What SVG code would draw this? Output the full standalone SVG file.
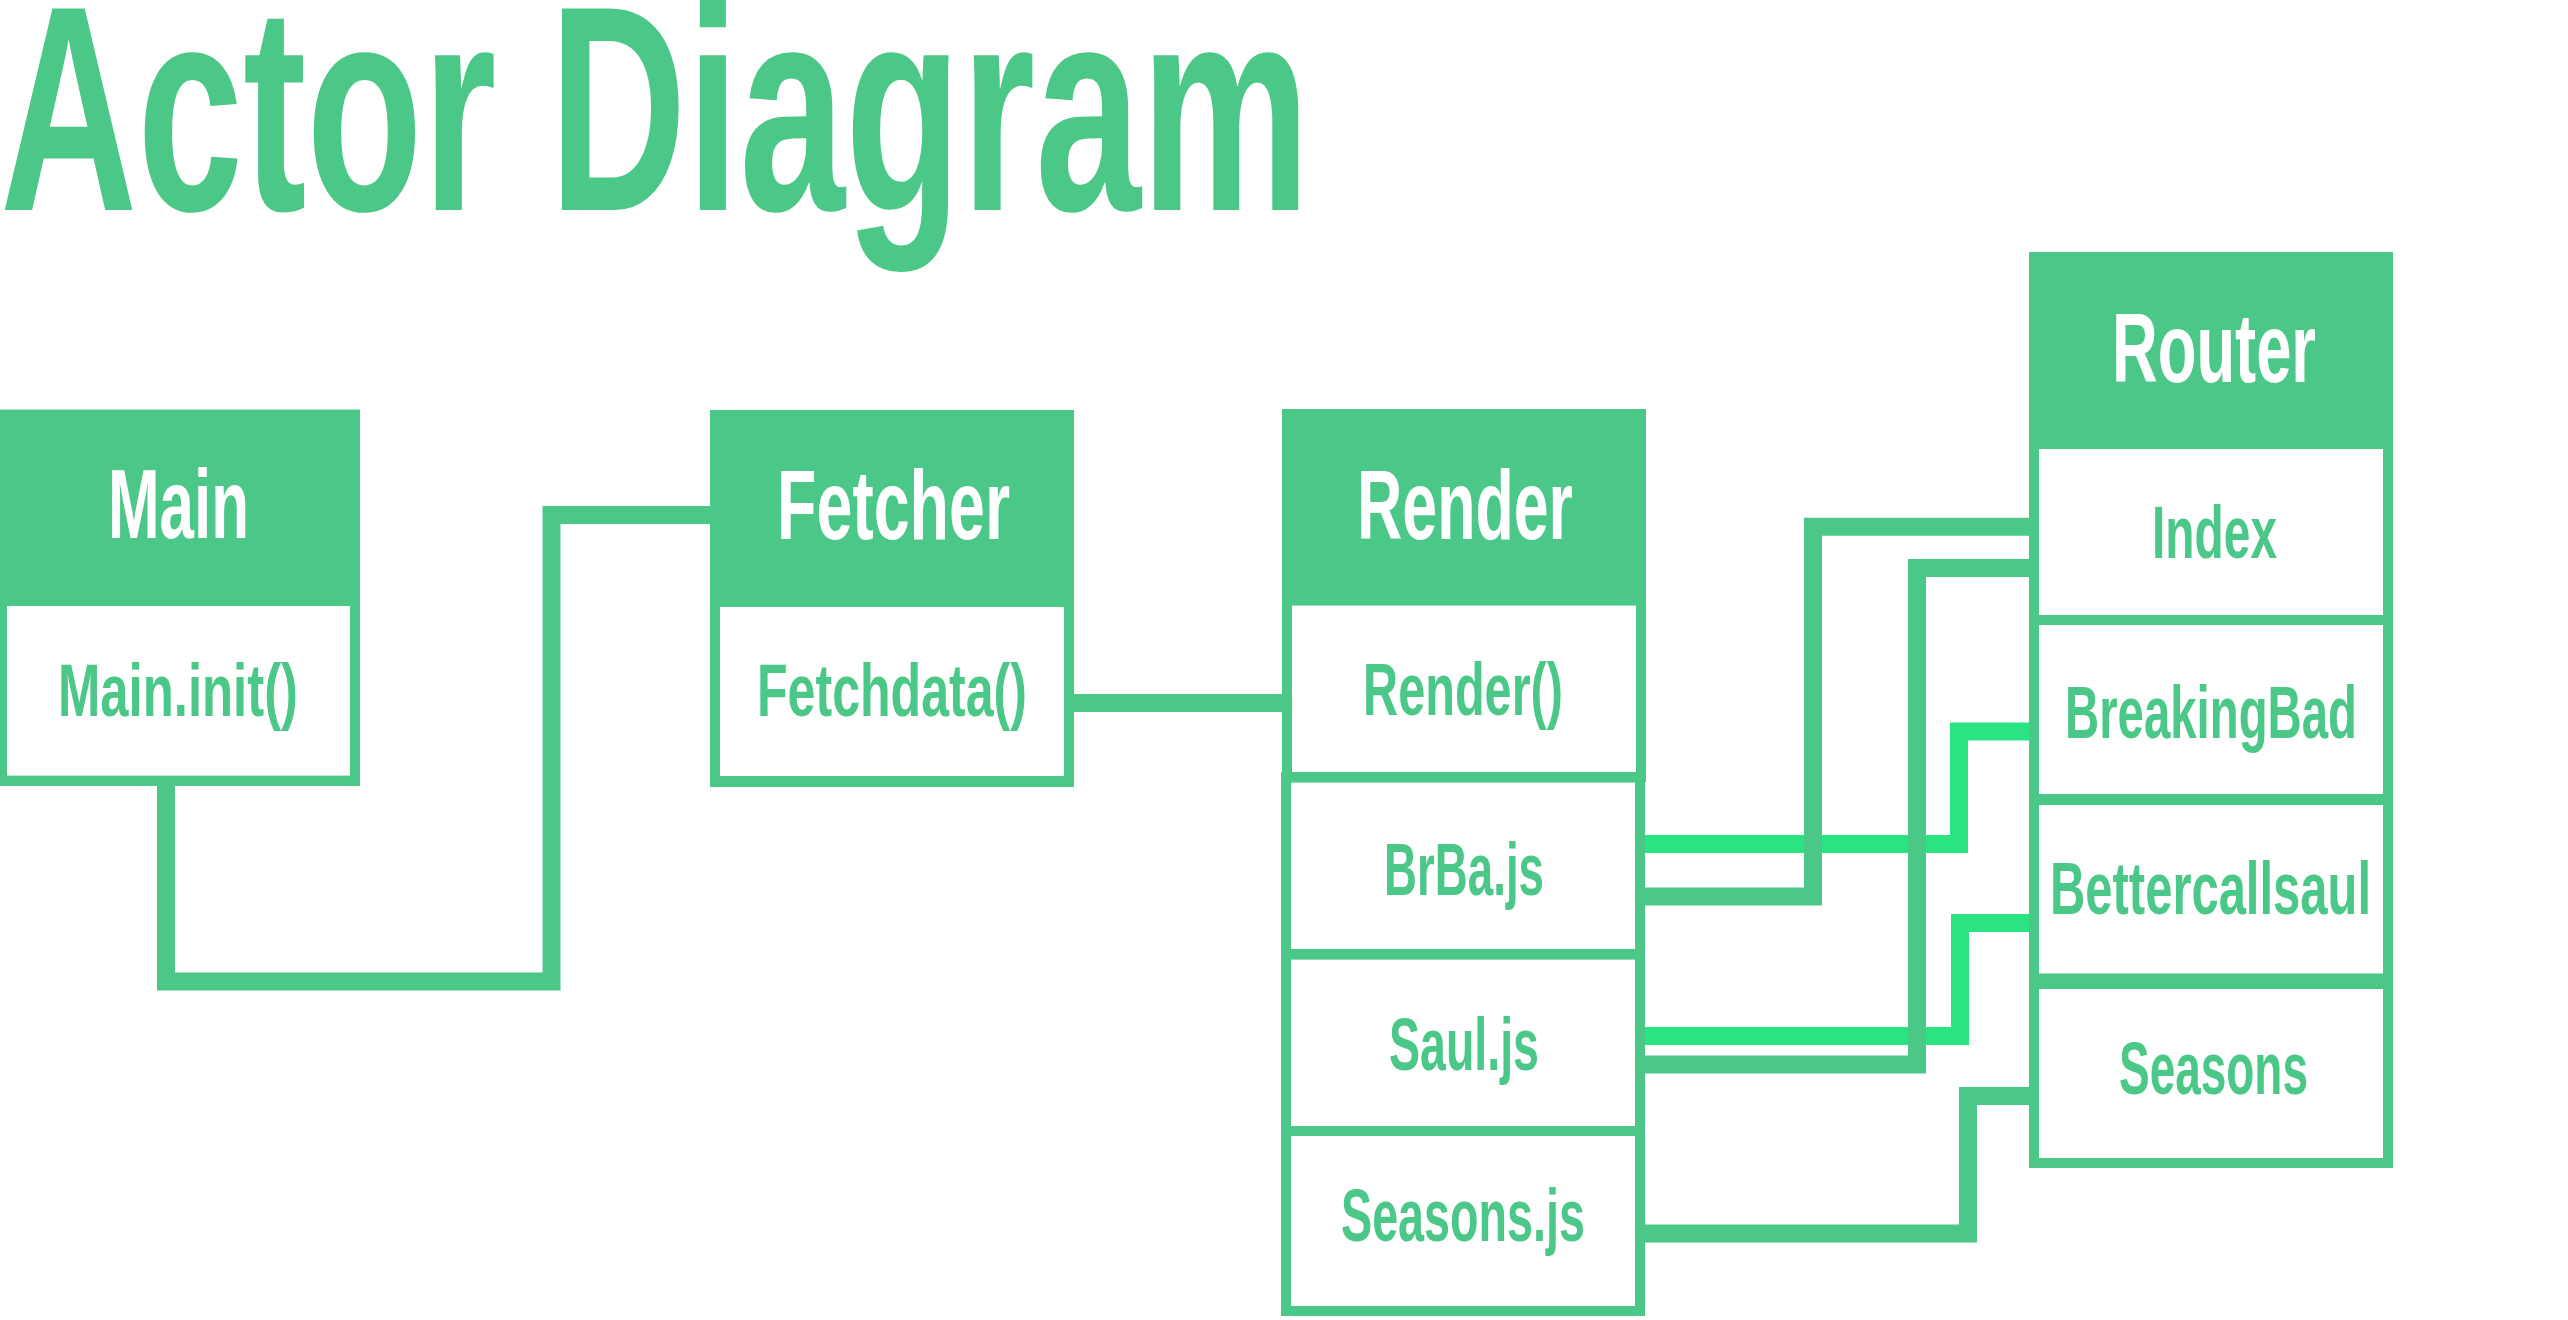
<svg xmlns="http://www.w3.org/2000/svg" width="2568" height="1320" viewBox="0 0 2568 1320">
<style>
.bg{fill:#ffffff}
.frame{fill:#4bc787}
.cell{fill:#ffffff}
.hd{font-family:"Liberation Sans",Arial,sans-serif;font-weight:bold;font-size:98px;fill:#ffffff}
.it{font-family:"Liberation Sans",Arial,sans-serif;font-weight:bold;font-size:74px;fill:#4bc787}
.title{font-family:"Liberation Sans",Arial,sans-serif;font-weight:bold;font-size:293px;fill:#4bc787}
.med{fill:none;stroke:#4bc787;stroke-width:18;stroke-linejoin:miter;stroke-linecap:butt}
.brt{fill:none;stroke:#2ae483;stroke-width:18;stroke-linejoin:miter;stroke-linecap:butt}
</style>
<rect class="bg" x="0" y="0" width="2568" height="1320"/>
<text id="title" class="title" x="0" y="210" textLength="1310" lengthAdjust="spacingAndGlyphs">Actor Diagram</text>

<g id="connectors">
  <path class="med" d="M166 786 V981.5 H551.5 V515 H710" stroke-width="17"/>
  <path class="med" d="M1074 703 H1282"/>
  <path class="brt" d="M1645 844 H1959 V731.5 H2029"/>
  <path class="brt" d="M1645 1036 H1960 V923 H2029"/>
  <path class="med" d="M1645 896.6 H1813 V526.7 H2029"/>
  <path class="med" d="M1645 1064.6 H1917 V568 H2029"/>
  <path class="med" d="M1645 1233.6 H1968 V1096 H2029"/>
</g>

<g id="main">
  <rect class="frame" x="0" y="409.6" width="360" height="376.4"/>
  <rect class="cell" x="7" y="606" width="343" height="169.6"/>
  <text class="hd" x="108" y="538" textLength="141" lengthAdjust="spacingAndGlyphs">Main</text>
  <text class="it" x="58" y="716" textLength="240" lengthAdjust="spacingAndGlyphs">Main.init()</text>
</g>

<g id="fetcher">
  <rect class="frame" x="710" y="410" width="364" height="377"/>
  <rect class="cell" x="720" y="607" width="344" height="169"/>
  <text class="hd" x="777" y="538.5" textLength="233" lengthAdjust="spacingAndGlyphs">Fetcher</text>
  <text class="it" x="757" y="716" textLength="270" lengthAdjust="spacingAndGlyphs">Fetchdata()</text>
</g>

<g id="render">
  <rect class="frame" x="1282" y="409" width="364" height="373"/>
  <rect class="cell" x="1292" y="605.6" width="344" height="166.4"/>
  <rect class="frame" x="1281" y="772" width="364" height="544"/>
  <rect class="cell" x="1291" y="782.6" width="344" height="166.4"/>
  <rect class="cell" x="1291" y="959.6" width="344" height="166.4"/>
  <rect class="cell" x="1291" y="1136" width="344" height="170"/>
  <text class="hd" x="1357" y="539" textLength="216" lengthAdjust="spacingAndGlyphs">Render</text>
  <text class="it" x="1363" y="715" textLength="200" lengthAdjust="spacingAndGlyphs">Render()</text>
  <text class="it" x="1384" y="895" textLength="160" lengthAdjust="spacingAndGlyphs">BrBa.js</text>
  <text class="it" x="1389" y="1070" textLength="150" lengthAdjust="spacingAndGlyphs">Saul.js</text>
  <text class="it" x="1341" y="1241" textLength="244" lengthAdjust="spacingAndGlyphs">Seasons.js</text>
</g>

<g id="router">
  <rect class="frame" x="2029" y="252" width="364" height="916"/>
  <rect class="cell" x="2039" y="449" width="344" height="166"/>
  <rect class="cell" x="2039" y="625" width="344" height="169"/>
  <rect class="cell" x="2039" y="805" width="344" height="168.5"/>
  <rect class="cell" x="2039" y="989" width="344" height="169"/>
  <text class="hd" x="2112" y="382" textLength="204" lengthAdjust="spacingAndGlyphs">Router</text>
  <text class="it" x="2152" y="558" textLength="125" lengthAdjust="spacingAndGlyphs">Index</text>
  <text class="it" x="2065" y="738" textLength="292" lengthAdjust="spacingAndGlyphs">BreakingBad</text>
  <text class="it" x="2050" y="914" textLength="321" lengthAdjust="spacingAndGlyphs">Bettercallsaul</text>
  <text class="it" x="2119" y="1094" textLength="189" lengthAdjust="spacingAndGlyphs">Seasons</text>
</g>
</svg>
